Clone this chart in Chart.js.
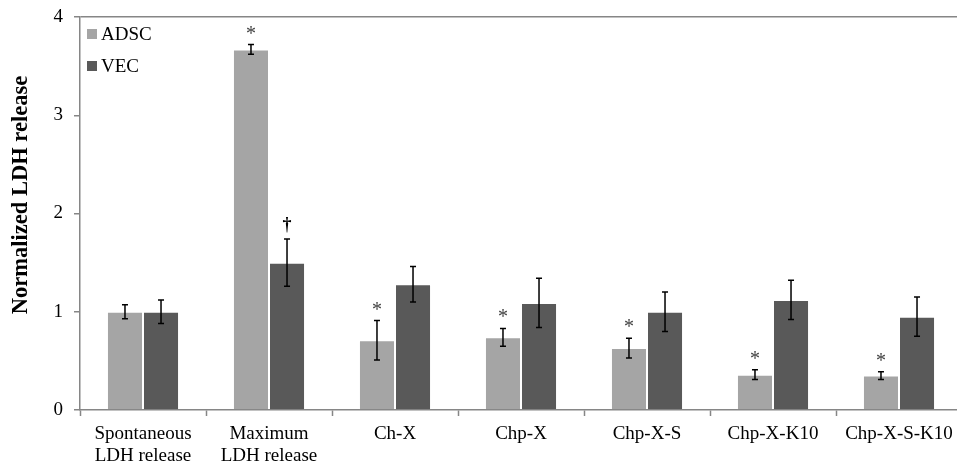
<!DOCTYPE html>
<html>
<head>
<meta charset="utf-8">
<script src="https://cdn.jsdelivr.net/npm/chart.js@4.4.1/dist/chart.umd.min.js"></script>
<style>
  html, body { margin: 0; padding: 0; background: #fff; overflow: hidden; }
  #wrap { width: 963px; height: 468px; }
</style>
</head>
<body>
<div id="wrap"><canvas id="c"></canvas></div>
<script>
// ===== data =====
const categories = [
  ['Spontaneous', 'LDH release'],
  ['Maximum', 'LDH release'],
  'Ch-X', 'Chp-X', 'Chp-X-S', 'Chp-X-K10', 'Chp-X-S-K10'
];
const adscValues = [1.00, 3.67, 0.71, 0.74, 0.63, 0.36, 0.35];
const adscErrors = [0.07, 0.05, 0.20, 0.09, 0.10, 0.05, 0.04];
const vecValues  = [1.00, 1.50, 1.28, 1.09, 1.00, 1.12, 0.95];
const vecErrors  = [0.12, 0.24, 0.18, 0.25, 0.20, 0.20, 0.20];
const adscMarks  = ['', '*', '*', '*', '*', '*', '*'];
const vecMarks   = ['', '\u2020', '', '', '', '', ''];
const yTicks     = [0, 1, 2, 3, 4];

const ADSC = '#a5a5a5';
const VEC  = '#595959';
const AXIS = '#868686';
const FONT = '"Liberation Serif", "Times New Roman", serif';

// error bars + significance marks
const errorBars = {
  id: 'errorBars',
  afterDatasetsDraw(chart) {
    const { ctx, scales: { y } } = chart;
    const errs  = [adscErrors, vecErrors];
    const marks = [adscMarks, vecMarks];
    ctx.save();
    chart.data.datasets.forEach((ds, di) => {
      chart.getDatasetMeta(di).data.forEach((bar, i) => {
        const v = ds.data[i], e = errs[di][i];
        const top = y.getPixelForValue(v + e);
        const bot = y.getPixelForValue(v - e);
        ctx.strokeStyle = '#000';
        ctx.lineWidth = 1.5;
        ctx.beginPath();
        ctx.moveTo(bar.x, top); ctx.lineTo(bar.x, bot);
        ctx.moveTo(bar.x - 3, top); ctx.lineTo(bar.x + 3, top);
        ctx.moveTo(bar.x - 3, bot); ctx.lineTo(bar.x + 3, bot);
        ctx.stroke();
        const m = marks[di][i];
        if (m) {
          ctx.fillStyle = m === '*' ? '#404040' : '#000';
          ctx.font = (m === '*' ? '20px ' : 'bold 18px ') + FONT;
          ctx.textAlign = 'center';
          ctx.textBaseline = 'alphabetic';
          ctx.fillText(m, bar.x, m === '*' ? top - 5 : top - 9);
        }
      });
    });
    ctx.restore();
  }
};

// legend in the upper left corner and the rotated y title
const extras = {
  id: 'extras',
  afterDraw(chart) {
    const { ctx } = chart;
    ctx.save();
    const items = [['ADSC', ADSC, 34], ['VEC', VEC, 66]];
    ctx.font = '19px ' + FONT;
    ctx.textBaseline = 'middle';
    ctx.textAlign = 'left';
    items.forEach(([label, col, cy]) => {
      ctx.fillStyle = col;
      ctx.fillRect(87, cy - 5, 10, 10);
      ctx.fillStyle = '#000';
      ctx.fillText(label, 101, cy + 1);
    });
    ctx.translate(21, 195);
    ctx.rotate(-Math.PI / 2);
    ctx.font = 'bold 22.5px ' + FONT;
    ctx.textAlign = 'center';
    ctx.fillText('Normalized LDH release', 0, 0);
    ctx.restore();
  }
};

new Chart(document.getElementById('c'), {
  type: 'bar',
  data: {
    labels: categories,
    datasets: [
      { label: 'ADSC', data: adscValues, backgroundColor: ADSC, borderColor: 'rgba(255,255,255,0.45)', borderWidth: 1 },
      { label: 'VEC',  data: vecValues,  backgroundColor: VEC,  borderColor: 'rgba(255,255,255,0.35)', borderWidth: 1 }
    ]
  },
  options: {
    responsive: true,
    maintainAspectRatio: false,
    animation: false,
    layout: { padding: { top: 17, right: 1, left: 0, bottom: 0 } },
    plugins: { legend: { display: false }, tooltip: { enabled: false } },
    datasets: { bar: { categoryPercentage: 0.572, barPercentage: 1 } },
    scales: {
      x: {
        grid: { display: true, drawOnChartArea: false, offset: true, tickLength: 6, tickColor: AXIS, tickWidth: 1.5 },
        border: { color: AXIS, width: 1.5 },
        ticks: { color: '#000', padding: 7, font: { family: FONT, size: 19, lineHeight: 1.15 }, maxRotation: 0, autoSkip: false },
        afterFit: s => { s.height = 58; }
      },
      y: {
        min: 0, max: 4,
        afterBuildTicks: s => { s.ticks = yTicks.map(v => ({ value: v })); },
        grid: {
          color: c => c.tick && c.tick.value === 4 ? AXIS : 'transparent',
          lineWidth: 1.5, tickLength: 6, tickColor: AXIS, tickWidth: 1.5
        },
        border: { color: AXIS, width: 1.5 },
        ticks: { color: '#000', padding: 11, font: { family: FONT, size: 19 } },
        afterFit: s => { s.width = 80; s.paddingTop = 0; s.paddingBottom = 0; }
      }
    }
  },
  plugins: [errorBars, extras]
});
</script>
</body>
</html>
